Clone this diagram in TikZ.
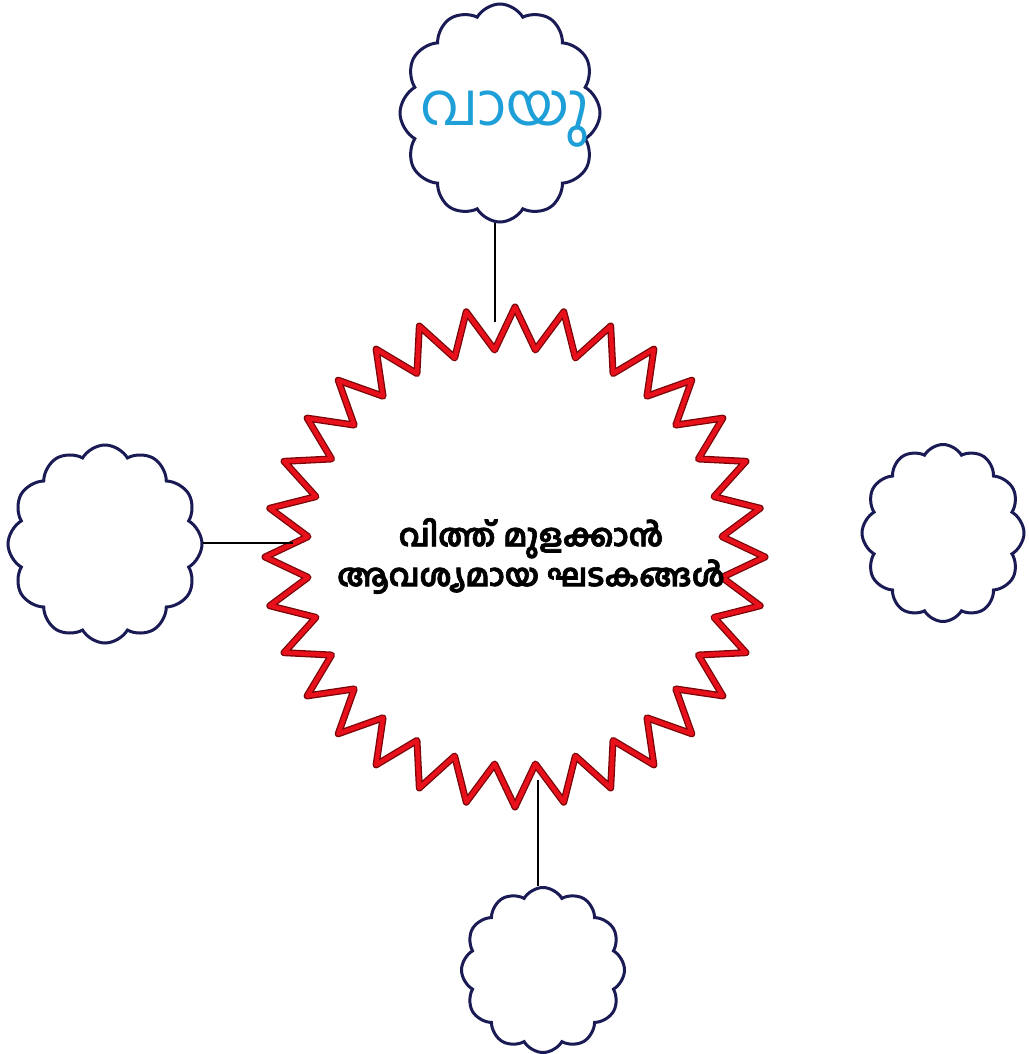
\documentclass[tikz,border=0pt]{standalone}
\usepackage{fontspec}
\newfontfamily\mlfont[Script=Malayalam]{Hind Kochi}
\newfontfamily\mlheavy[Script=Malayalam, FakeBold=2]{Hind Kochi}
\usetikzlibrary{shapes.symbols}
\definecolor{cloudline}{HTML}{1A1A55}
\definecolor{starred}{HTML}{E8101A}
\definecolor{stardark}{HTML}{7A0508}
\definecolor{airblue}{HTML}{1E9FD8}
\begin{document}
\begin{tikzpicture}[x=1pt,y=-1pt,
  puff/.style={cloud, cloud puffs=12, cloud puff arc=120, cloud ignores aspect,
    draw=cloudline, line width=3pt, fill=white, inner sep=0pt},
  link/.style={draw=black, line width=2pt},
  starouter/.style={draw=stardark, line width=7pt, line join=round, fill=white},
  starinner/.style={draw=starred, line width=4.4pt, line join=round}]
\useasboundingbox[fill=white] (0,0) rectangle (1028,1054);
% starburst
\begin{scope}[shift={(515,557)}]
\draw[starouter] (90:250) \foreach \k in {1,...,32} { -- ({90+\k*11.25-5.625}:208) -- ({90+\k*11.25}:250) } -- cycle;
\draw[starinner] (90:250) \foreach \k in {1,...,32} { -- ({90+\k*11.25-5.625}:208) -- ({90+\k*11.25}:250) } -- cycle;
\end{scope}
\node[font=\mlheavy\bfseries\fontsize{31}{37}\selectfont, align=center] (hub) at (531,556)
  {വിത്ത് മുളക്കാൻ\\ആവശ്യമായ ഘടകങ്ങൾ};
% clouds
\node[puff, minimum width=200pt, minimum height=218pt] (top) at (500,113) {};
\node[puff, minimum width=194pt, minimum height=198pt] (left) at (105,544) {};
\node[puff, minimum width=162pt, minimum height=177pt] (right) at (943,533) {};
\node[puff, minimum width=163pt, minimum height=165pt] (bottom) at (543,970) {};
\node[font=\mlfont\fontsize{59}{65}\selectfont, text=airblue] (air) at (505,119) {വായു};
% connectors
\coordinate (sT) at (495,322);
\coordinate (sL) at (293,543);
\coordinate (sB) at (538,780);
\draw[link] (sT) -- (sT |- top.south);
\draw[link] (sL) -- (sL -| left.east);
\draw[link] (sB) -- (sB |- bottom.north);
\end{tikzpicture}
\end{document}
